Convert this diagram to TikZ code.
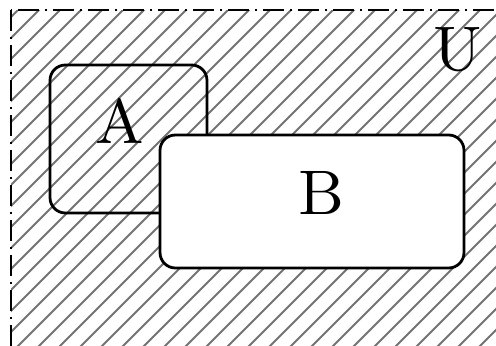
\documentclass[tikz,border=0pt]{standalone}
\begin{document}
\begin{tikzpicture}[x=0.142857pt,y=-0.142857pt,
  setbox/.style={draw=black, line width=0.4pt, rounded corners=2.2pt},
  universe/.style={draw=black, line width=0.3pt, dash pattern=on 3pt off 0.8pt on 0.4pt off 0.8pt},
  hatch/.style={draw=black!55, line width=0.3pt},
  setlabel/.style={inner sep=0pt, font=\fontsize{9}{11}\selectfont}]
\useasboundingbox (0,0) rectangle (496,345);
\clip (0,0) rectangle (496,345);
\begin{scope}
  \clip (11,10) rectangle (530,380);
  \foreach \c in {7,28,...,910} {
    \draw[hatch] (\c,0) -- (\c-400,400);
  }
\end{scope}
\draw[universe] (11,10) rectangle (530,380);
\draw[setbox] (50,65) rectangle (207,213);
\draw[setbox, fill=white] (160,135) rectangle (464,268);
\node[setlabel] (A) at (120,121) {A};
\node[setlabel] (B) at (321,193) {B};
\node[setlabel] (U) at (458,50) {U};
\end{tikzpicture}
\end{document}
